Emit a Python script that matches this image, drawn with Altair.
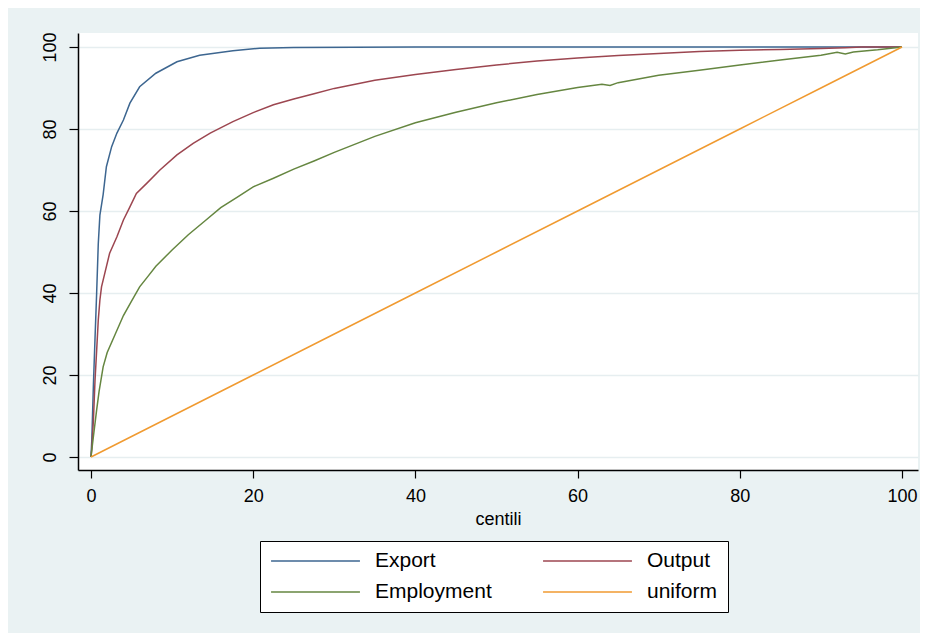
import altair as alt
import pandas as pd

series_names = ["Export", "Output", "Employment", "uniform"]
series_colors = ["#3d6690", "#9c4650", "#658640", "#f09a30"]

export_x = [0, 0.1, 0.3, 0.5, 0.7, 0.9, 1.1, 1.5, 1.9, 2.55, 3.2, 4, 4.8, 6, 8, 10.6,
            13.4, 17.5, 20.8, 25, 40, 60, 80, 100]
export_y = [0, 4, 17.6, 29, 40, 52, 59, 64, 70.8, 75.7, 79, 82.2, 86.3, 90.3, 93.6, 96.4,
            98, 99.1, 99.7, 99.9, 100, 100, 100, 100]

output_x = [0, 0.1, 0.3, 0.5, 0.7, 0.9, 1.1, 1.3, 1.7, 2.3, 3.2, 4, 4.8, 5.6, 6.9, 8.5,
            10.6, 12.6, 14.7, 17.5, 20, 22.5, 25, 27.5, 30, 35, 40, 45, 50, 55, 60, 65,
            70, 75, 80, 85, 90, 93, 95, 100]
output_y = [0, 2, 9, 18.8, 26, 33.4, 38.3, 41.5, 44.8, 49.7, 53.7, 57.8, 61, 64.3, 66.8, 70,
            73.7, 76.5, 79, 81.8, 84, 85.9, 87.3, 88.6, 89.9, 91.9, 93.3, 94.5, 95.6, 96.6, 97.3, 97.9,
            98.4, 98.9, 99.2, 99.4, 99.6, 99.8, 100, 100]

employment_x = [0, 0.3, 0.7, 1, 1.5, 2, 3, 4, 5, 6, 7, 8, 10, 12, 14, 16, 18, 20, 22.5, 25,
                27.5, 30, 35, 40, 45, 50, 55, 60, 63, 64, 65, 70, 75, 80, 85, 90, 92, 93, 94,
                97, 100]
employment_y = [0, 5, 11.5, 16, 22, 25.5, 30, 34.5, 38, 41.5, 44, 46.5, 50.5, 54.2, 57.5, 60.8,
                63.3, 65.9, 68, 70.2, 72.2, 74.3, 78.2, 81.5, 84.1, 86.4, 88.4, 90.1, 90.9, 90.6,
                91.3, 93.1, 94.3, 95.6, 96.8, 98, 98.7, 98.3, 98.8, 99.3, 100]

uniform_x = [0, 10, 20, 30, 40, 50, 60, 70, 80, 90, 100]
uniform_y = [0, 10, 20, 30, 40, 50, 60, 70, 80, 90, 100]

x_ticks = [0, 20, 40, 60, 80, 100]
y_ticks = [0, 20, 40, 60, 80, 100]

frames = []
for name, xs, ys in [("Export", export_x, export_y),
                     ("Output", output_x, output_y),
                     ("Employment", employment_x, employment_y),
                     ("uniform", uniform_x, uniform_y)]:
    frames.append(pd.DataFrame({"centile": xs, "value": ys, "series": name}))
df = pd.concat(frames, ignore_index=True)

tick_font = "Liberation Sans"
label_font = "Liberation Sans"

chart = alt.Chart(df).mark_line(strokeWidth=1.5, clip=True).encode(
    x=alt.X("centile:Q",
            scale=alt.Scale(domain=[-1.6, 101.97], nice=False, zero=False),
            axis=alt.Axis(values=x_ticks, title="centili", grid=False,
                          domainColor="black", domainWidth=1.5,
                          tickColor="black", tickSize=8, tickWidth=1.2,
                          labelFont=tick_font, labelFontSize=18, labelColor="black",
                          labelPadding=9, labelFlush=False,
                          titleFont=tick_font, titleFontSize=18, titleFontWeight="normal",
                          titleColor="black", titlePadding=5)),
    y=alt.Y("value:Q",
            scale=alt.Scale(domain=[-3.17, 103.41], nice=False, zero=False),
            axis=alt.Axis(values=y_ticks, title=None, grid=True,
                          gridColor="#e6eef0", gridWidth=1.5,
                          domainColor="black", domainWidth=1.5,
                          tickColor="black", tickSize=9, tickWidth=1.2,
                          labelFont=tick_font, labelFontSize=18, labelColor="black",
                          labelAngle=270, labelAlign="center", labelBaseline="bottom",
                          labelPadding=10)),
    color=alt.Color("series:N",
                    scale=alt.Scale(domain=series_names, range=series_colors),
                    sort=series_names,
                    legend=alt.Legend(title=None, orient="none", direction="horizontal",
                                      legendX=182, legendY=508,
                                      columns=2, symbolType="stroke",
                                      symbolSize=7900, symbolStrokeWidth=1.5,
                                      clipHeight=20, rowPadding=10, columnPadding=50,
                                      padding=10, labelOffset=14,
                                      labelFont=label_font, labelFontSize=21,
                                      labelColor="black",
                                      strokeColor="black", fillColor="white")),
    order=alt.Order("centile:Q"),
).properties(
    width=840,
    height=437,
    background="#eaf2f3",
    padding={"left": 70, "top": 25, "right": 2, "bottom": 163},
    autosize=alt.AutoSizeParams(type="none"),
).configure_view(fill="white", stroke=None)

chart.save("out.html", embed_options={"renderer": "svg", "actions": False})
